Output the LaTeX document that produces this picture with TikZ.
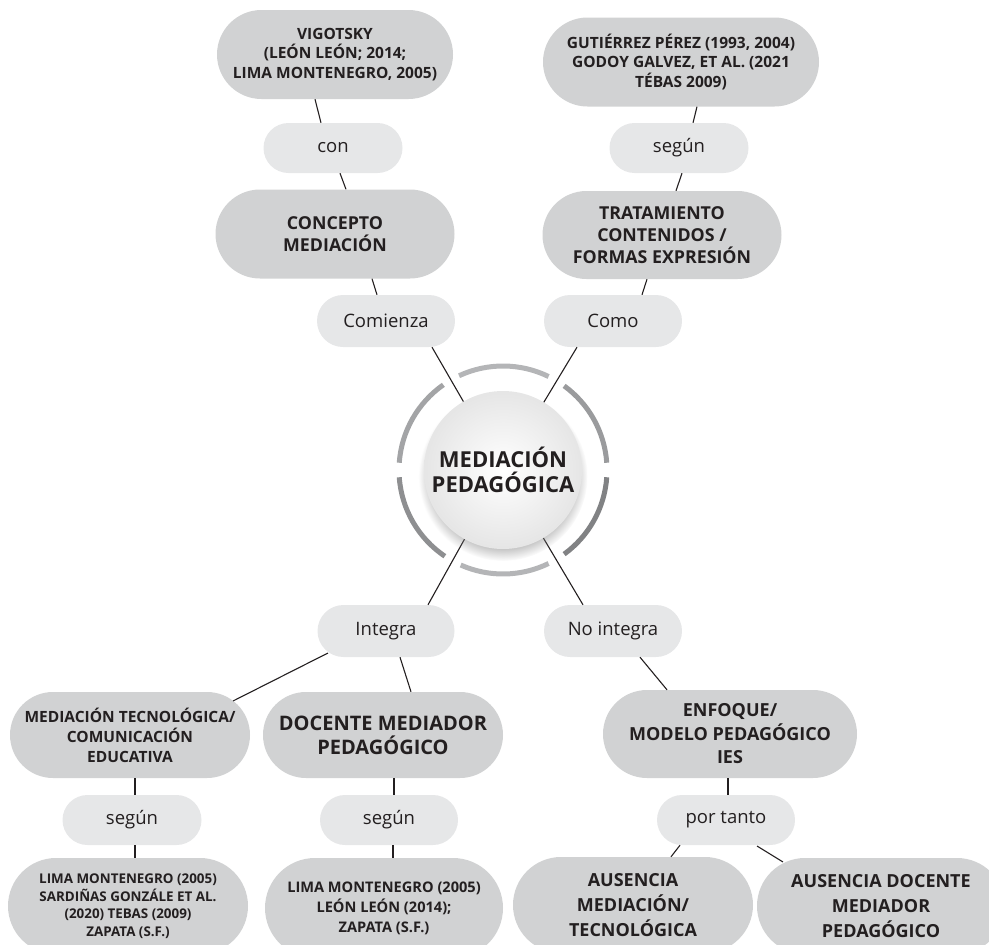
\documentclass[tikz,border=0pt]{standalone}
\usepackage{fontspec}
\setmainfont{Open Sans}
\usetikzlibrary{shapes.misc,shadows,fadings}
\definecolor{pilldark}{HTML}{D1D2D3}
\definecolor{pilllight}{HTML}{E6E7E8}
\definecolor{txt}{HTML}{231F20}
\definecolor{ringA}{HTML}{B4B5B7}
\definecolor{ringB}{HTML}{9A9B9D}
\definecolor{ringC}{HTML}{818284}
\definecolor{ringD}{HTML}{8E8F91}
\definecolor{ringE}{HTML}{A3A4A6}
\newcommand{\fsz}[2]{\fontsize{#1}{#2}\selectfont}
\tikzset{
  pill/.style={rounded rectangle, fill=pilldark, text=txt, align=center, inner sep=0pt},
  lab/.style={rounded rectangle, fill=pilllight, text=txt, inner sep=0pt, font=\fsz{18.5}{22}},
  conn/.style={draw=txt, line width=1.1pt},
  ringseg/.style={line width=5pt},
}
\begin{document}
\begin{tikzpicture}[x=1pt,y=-1pt]
\useasboundingbox (0,0) rectangle (989,945);
% top left branch
\node[pill, minimum width=236, minimum height=89, font=\bfseries\fsz{15.5}{19.5}] (vig) at (335,54.5) {VIGOTSKY\\(LEÓN LEÓN; 2014;\\LIMA MONTENEGRO, 2005)};
\node[lab, minimum width=139, minimum height=50] (con) at (333,148) {con};
\node[pill, minimum width=239, minimum height=89, font=\bfseries\fsz{17.8}{22}] (concepto) at (335,234) {CONCEPTO\\MEDIACIÓN};
\node[lab, minimum width=138, minimum height=52] (comienza) at (386,321) {Comienza};
% top right branch
\node[pill, minimum width=276, minimum height=89, font=\bfseries\fsz{15.5}{19.5}] (gut) at (681,62) {GUTIÉRREZ PÉREZ (1993, 2004)\\GODOY GALVEZ, ET AL. (2021\\TÉBAS 2009)};
\node[lab, minimum width=139, minimum height=50] (segun1) at (679,148) {según};
\node[pill, minimum width=239, minimum height=88, font=\bfseries\fsz{17.8}{22}] (trat) at (662,235) {TRATAMIENTO\\CONTENIDOS /\\FORMAS EXPRESIÓN};
\node[lab, minimum width=138, minimum height=52] (como) at (613,321) {Como};
% bottom
\node[lab, minimum width=137, minimum height=52] (integra) at (386,631) {Integra};
\node[lab, minimum width=138, minimum height=52] (nointegra) at (613,631) {No integra};
\node[pill, minimum width=240, minimum height=86, font=\bfseries\fsz{15.5}{20}] (medtec) at (130,735) {MEDIACIÓN TECNOLÓGICA/\\COMUNICACIÓN\\EDUCATIVA};
\node[pill, minimum width=240, minimum height=86, font=\bfseries\fsz{20}{24}] (docente) at (383,735) {DOCENTE MEDIADOR\\PEDAGÓGICO};
\node[pill, minimum width=254, minimum height=88, font=\bfseries\fsz{18}{23.5}] (enfoque) at (730,734) {ENFOQUE/\\MODELO PEDAGÓGICO\\IES};
\node[lab, minimum width=139, minimum height=50] (segun2) at (132,820) {según};
\node[lab, minimum width=138, minimum height=50] (segun3) at (389,820) {según};
\node[lab, minimum width=138, minimum height=50] (portanto) at (726,820) {por tanto};
\node[pill, minimum width=240, minimum height=96, font=\bfseries\fsz{13.4}{17.5}] (lima1) at (128,906) {LIMA MONTENEGRO (2005)\\SARDIÑAS GONZÁLE ET AL.\\(2020) TEBAS (2009)\\ZAPATA (S.F.)};
\node[pill, minimum width=238, minimum height=100, font=\bfseries\fsz{14.6}{20}] (lima2) at (384,908) {LIMA MONTENEGRO (2005)\\LEÓN LEÓN (2014);\\ZAPATA (S.F.)};
\node[pill, minimum width=240, minimum height=96, font=\bfseries\fsz{18}{25}] (aus1) at (633,905) {AUSENCIA\\MEDIACIÓN/\\TECNOLÓGICA};
\node[pill, minimum width=248, minimum height=96, font=\bfseries\fsz{18}{25}] (aus2) at (881,906) {AUSENCIA DOCENTE\\MEDIADOR\\PEDAGÓGICO};
\coordinate (c) at (503,470);
% connectors
\draw[conn] ([shift={(-20,0)}]vig.south) -- ([shift={(-12,0)}]con.north);
\draw[conn] ([shift={(7,0)}]con.south) -- ([shift={(11,0)}]concepto.north);
\draw[conn] ([shift={(37,0)}]concepto.south) -- ([shift={(-9,0)}]comienza.north);
\draw[conn] ([shift={(46,0)}]comienza.south) -- (c);
\draw[conn] ([shift={(16,0)}]gut.south) -- ([shift={(14,0)}]segun1.north);
\draw[conn] ([shift={(3,0)}]segun1.south) -- ([shift={(14,0)}]trat.north);
\draw[conn] ([shift={(-15,0)}]trat.south) -- ([shift={(29,0)}]como.north);
\draw[conn] ([shift={(-36,0)}]como.south) -- (c);
\draw[conn] ([shift={(42,0)}]integra.north) -- (c);
\draw[conn] ([shift={(-30,0)}]nointegra.north) -- (c);
\draw[conn] ([shift={(-58,22)}]integra.center) -- ([shift={(103,-34)}]medtec.center);
\draw[conn] ([shift={(14,0)}]integra.south) -- ([shift={(28,0)}]docente.north);
\draw[conn] ([shift={(27,0)}]nointegra.south) -- ([shift={(-63,0)}]enfoque.north);
\draw[conn] ([shift={(5,0)}]medtec.south) -- ([shift={(3,0)}]segun2.north);
\draw[conn] ([shift={(3,0)}]segun2.south) -- ([shift={(7,0)}]lima1.north);
\draw[conn] ([shift={(11,0)}]docente.south) -- ([shift={(5,0)}]segun3.north);
\draw[conn] ([shift={(4,0)}]segun3.south) -- ([shift={(9,0)}]lima2.north);
\draw[conn] ([shift={(-2,0)}]enfoque.south) -- ([shift={(2,0)}]portanto.north);
\draw[conn] ([shift={(-46,0)}]portanto.south) -- ([shift={(38,0)}]aus1.north);
\draw[conn] ([shift={(31,26)}]portanto.center) -- ([shift={(-98,-44)}]aus2.center);
% ring
\foreach \a/\b/\col in {245/296/ringA, 306/356/ringB, 364/414/ringC, 424/474/ringA, 484/536/ringD, 544/595/ringE}
  \draw[ringseg, draw=\col] (c) ++(\a:104) arc[start angle=\a, end angle=\b, radius=104];
% central circle
\node[circle, minimum size=158, inner sep=0pt, inner color=white, outer color=black!10,
      circular drop shadow={shadow xshift=0pt, shadow yshift=-6pt, opacity=0.45, shadow scale=1.07},
      text=txt, align=center, font=\bfseries\fsz{22}{25}] (mp) at (c) {MEDIACIÓN\\PEDAGÓGICA};
\end{tikzpicture}
\end{document}
